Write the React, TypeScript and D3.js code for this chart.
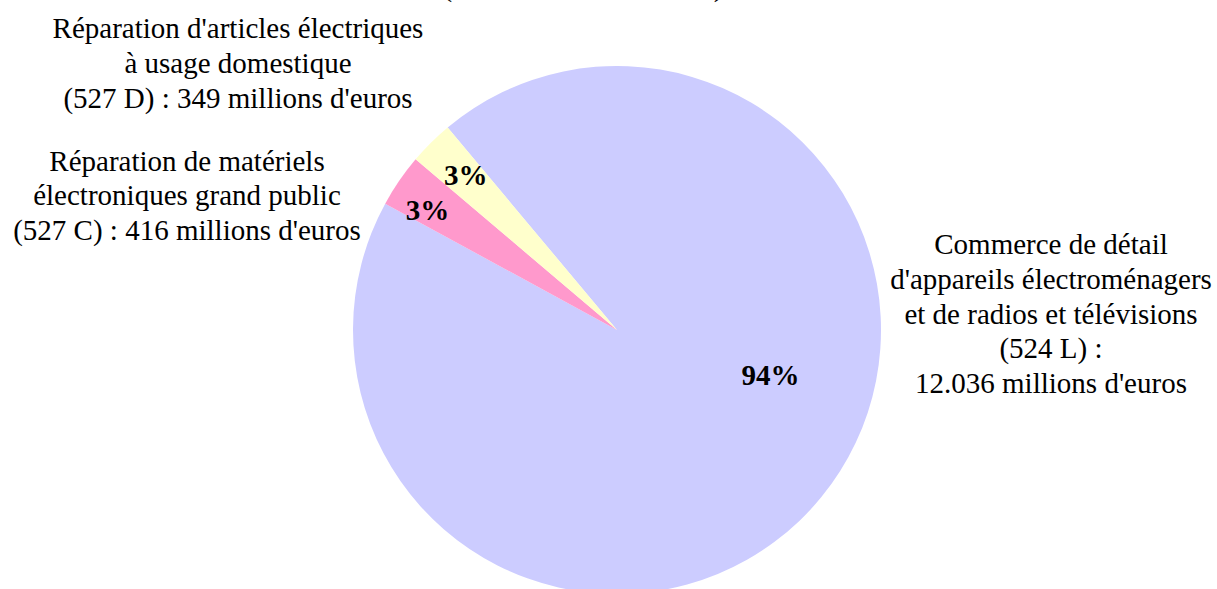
import React from 'react';
import * as d3 from 'd3';

// data (millions d'euros)
const categories = ['524 L', '527 C', '527 D'];
const values = [12036, 416, 349];
const percentLabels = ['94%', '3%', '3%'];
const colors = ['#ccccff', '#ff99cc', '#ffffcc'];
const labelLines = [
    ['Commerce de détail', "d'appareils électroménagers", 'et de radios et télévisions', '(524 L) :', "12.036 millions d'euros"],
    ['Réparation de matériels', 'électroniques grand public', "(527 C) : 416 millions d'euros"],
    ["Réparation d'articles électriques", 'à usage domestique', "(527 D) : 349 millions d'euros"],
];
const titleText = "(en millions d'euros)";

// layout
const svgWidth = 1217, svgHeight = 589;
const cx = 617, cy = 330, radius = 264;
const startDeg = -39.9;
const fontFamily = '"Liberation Serif", "Times New Roman", serif';
const fontSize = 29;
const lineHeight = 34.8;
// outside label anchors: centre x, first baseline y
const labelAnchors = [
    { x: 1051, y: 254 },
    { x: 187, y: 170.5 },
    { x: 238, y: 38 },
];
// percentage label radius (fraction of r) and angular shift (deg)
const pctPlacement = [
    { r: 0.606, shift: -22.9 },
    { r: 0.85, shift: -2 },
    { r: 0.82, shift: 0.5 },
];

export default function App() {
    const toRad = (d: number) => d * Math.PI / 180;

    const pie = d3.pie<number>()
        .sort(null)
        .startAngle(toRad(startDeg))
        .endAngle(toRad(startDeg + 360));
    const arcs = pie(values);

    const arc = d3.arc<d3.PieArcDatum<number>>()
        .innerRadius(0)
        .outerRadius(radius);

    return (
        <svg width={svgWidth} height={svgHeight}
            style={{ position: 'absolute', left: 0, top: 0, background: '#fff' }}
            fontFamily={fontFamily}>
            {/* title is cut off at the top edge, as in the source */}
            <text x={583} y={-4} fontSize={fontSize} textAnchor="middle"
                textLength={281} lengthAdjust="spacing">{titleText}</text>
            <g transform={'translate(' + cx + ',' + cy + ')'}>
                {arcs.map((d, i) => (
                    <path key={categories[i]} d={arc(d) || ''} fill={colors[i]} />
                ))}
                {arcs.map((d, i) => {
                    const p = pctPlacement[i];
                    const a = (d.startAngle + d.endAngle) / 2 + toRad(p.shift);
                    const r = radius * p.r;
                    return (
                        <text key={'p' + i} x={Math.sin(a) * r} y={-Math.cos(a) * r}
                            dy="0.35em" textAnchor="middle" fontSize={fontSize} fontWeight="bold">
                            {percentLabels[i]}
                        </text>
                    );
                })}
            </g>
            {labelLines.map((lines, i) => (
                <text key={'l' + i} x={labelAnchors[i].x} y={labelAnchors[i].y}
                    textAnchor="middle" fontSize={fontSize} fill="#000">
                    {lines.map((line, j) => (
                        <tspan key={j} x={labelAnchors[i].x} y={labelAnchors[i].y + j * lineHeight}>{line}</tspan>
                    ))}
                </text>
            ))}
        </svg>
    );
}
